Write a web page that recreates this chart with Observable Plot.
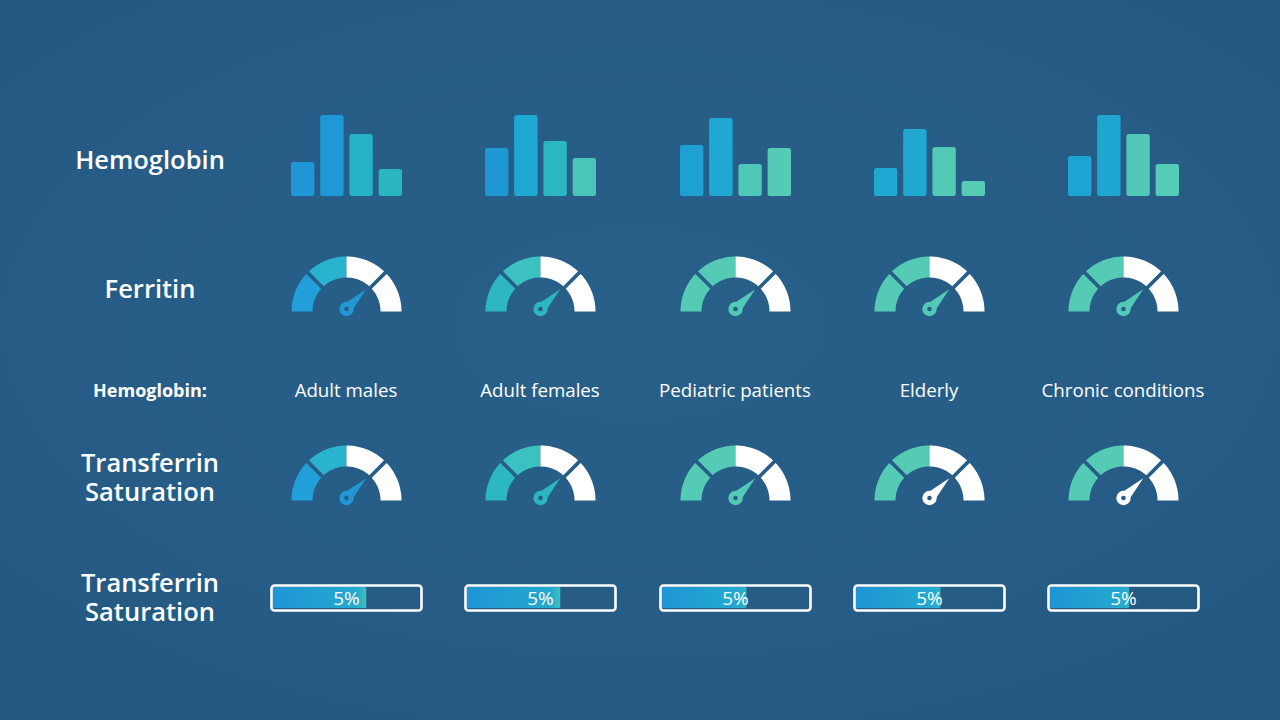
<!DOCTYPE html>
<html>
<head>
<meta charset="utf-8">
<script src="https://cdn.jsdelivr.net/npm/d3@7"></script>
<script src="https://cdn.jsdelivr.net/npm/@observablehq/plot@0.6"></script>
<style>
  html, body { margin: 0; padding: 0; background: #255b84; }
  #board {
    position: relative; width: 1280px; height: 720px; overflow: hidden;
    background: radial-gradient(ellipse 75% 70% at 50% 45%, #28608a 0%, #265c86 60%, #23577f 100%);
    font-family: "Open Sans", "Noto Sans", sans-serif; color: #fff;
  }
  .row-label {
    position: absolute; left: 30px; width: 240px; height: 29px; text-align: center;
    font-size: 25.5px; line-height: 29px; font-weight: 600; white-space: nowrap;
  }
  .col-label {
    position: absolute; width: 190px; text-align: center;
    font-size: 18.7px; line-height: 22px; font-weight: 400; white-space: nowrap;
  }
  .cell { position: absolute; }
  .cell svg { display: block; overflow: visible; background: none; }
</style>
</head>
<body>
<div id="board"></div>
<script>
// ---- data ----
const groups = ["Adult males", "Adult females", "Pediatric patients", "Elderly", "Chronic conditions"];
const rowLabels = ["Hemoglobin", "Ferritin", "Hemoglobin:", "Transferrin\nSaturation", "Transferrin\nSaturation"];

// Hemoglobin distribution, four bins per group
const hemoglobin = [
  [34, 81, 62, 27],
  [48, 81, 55, 38],
  [51, 78, 32, 48],
  [28, 67, 49, 15],
  [40, 81, 62, 32]
];
const hemoglobinColors = [
  ["#1f96d6", "#1e99d6", "#25b1c6", "#2bb5c2"],
  ["#1f97d5", "#1fa8d2", "#2ab6c2", "#4ac5b8"],
  ["#1ea0d4", "#1fa8d2", "#4ec9b7", "#55cbb5"],
  ["#1fa8d2", "#20a8d1", "#52cab6", "#57ccb4"],
  ["#1ea5d3", "#1fa7d2", "#52c9b6", "#56cbb5"]
];

// Gauge readings on a 0–100 scale
const ferritin = [75, 75, 75, 75, 75];
const transferrinGauge = [75, 75, 75, 75, 75];
const gaugeSegColors = [
  ["#229fd8", "#2ab3cf"],
  ["#2cb7c2", "#3bc1bf"],
  ["#55cbb5", "#55cbb5"],
  ["#55cbb5", "#55cbb5"],
  ["#55cbb5", "#55cbb5"]
];
const ferritinNeedle = ["#2197d4", "#2db5c1", "#53cab6", "#53cab6", "#53cab6"];
const transferrinNeedle = ["#2197d4", "#2db5c1", "#53cab6", "#ffffff", "#ffffff"];

// Transferrin saturation (%)
const transferrinPct = [5.4, 5.4, 4.9, 4.9, 4.6];

// ---- layout ----
const board = document.getElementById("board");
const colCenters = [346, 540, 735, 929, 1123];
const bg = "#265c86";

function place(node, left, top) {
  const d = document.createElement("div");
  d.className = "cell";
  d.style.left = left + "px";
  d.style.top = top + "px";
  d.appendChild(node);
  board.appendChild(d);
}

// One positioned block per text line
function textBlock(cls, text, left, top, lineStep = 29, extra = {}) {
  text.split("\n").forEach((line, k) => {
    const d = document.createElement("div");
    d.className = cls;
    d.style.left = left + "px";
    d.style.top = (top + k * lineStep) + "px";
    Object.assign(d.style, extra);
    d.textContent = line;
    board.appendChild(d);
  });
}

// Row labels
textBlock("row-label", rowLabels[0], 30, 145);
textBlock("row-label", rowLabels[1], 30, 274);
textBlock("row-label", rowLabels[2], 30, 380, 21, {fontSize: "18px", lineHeight: "21px", height: "21px", fontWeight: "700"});
textBlock("row-label", rowLabels[3], 30, 448);
textBlock("row-label", rowLabels[4], 30, 568);

// Column labels
groups.forEach((g, i) => textBlock("col-label", g, colCenters[i] - 95, 379));

// ---- bar charts ----
function barChart(values, colors) {
  const rows = values.map((v, i) => ({bin: i, value: v, color: colors[i]}));
  return Plot.plot({
    width: 111, height: 82, margin: 0,
    x: {type: "band", domain: [0, 1, 2, 3], paddingInner: 0.2, paddingOuter: 0, round: false, axis: null},
    y: {domain: [0, 82], axis: null},
    marks: [
      Plot.barY(rows, {x: "bin", y: "value", fill: "color", rx: 2.5})
    ]
  });
}

// ---- gauges ----
const R_OUT = 55, R_IN = 34, GAP = 1.8;
const angle = d3.scaleLinear().domain([0, 100]).range([Math.PI, 0]);

// Band polygon between angles a0 > a1, with straight gaps where flagged
function band(a0, a1, gapStart, gapEnd) {
  const pts = [];
  const adj = (a, r, gap, dir) => gap ? a + dir * Math.asin(GAP / r) : a;
  const n = 40;
  const o0 = adj(a0, R_OUT, gapStart, -1), o1 = adj(a1, R_OUT, gapEnd, 1);
  for (let k = 0; k <= n; k++) {
    const a = o0 + (o1 - o0) * k / n;
    pts.push({x: R_OUT * Math.cos(a), y: R_OUT * Math.sin(a)});
  }
  const i0 = adj(a0, R_IN, gapStart, -1), i1 = adj(a1, R_IN, gapEnd, 1);
  for (let k = n; k >= 0; k--) {
    const a = i0 + (i1 - i0) * k / n;
    pts.push({x: R_IN * Math.cos(a), y: R_IN * Math.sin(a)});
  }
  return pts;
}

function gauge(value, segColors, needleColor) {
  const PI = Math.PI;
  const segs = [
    {pts: band(PI, 3 * PI / 4, false, true), fill: segColors[0]},
    {pts: band(3 * PI / 4, PI / 2, true, false), fill: segColors[1]},
    {pts: band(PI / 2, PI / 4, false, true), fill: "#ffffff"},
    {pts: band(PI / 4, 0, true, false), fill: "#ffffff"}
  ];
  const hub = {x: 0, y: 2.5};
  const a = angle(value);
  const L = 28, w = 5.6;
  const needle = [
    {x: hub.x + L * Math.cos(a), y: hub.y + L * Math.sin(a)},
    {x: hub.x + w * Math.cos(a + PI / 2), y: hub.y + w * Math.sin(a + PI / 2)},
    {x: hub.x + w * Math.cos(a - PI / 2), y: hub.y + w * Math.sin(a - PI / 2)}
  ];
  return Plot.plot({
    width: 120, height: 70, margin: 0,
    x: {domain: [-60, 60], axis: null},
    y: {domain: [-10, 60], axis: null},
    marks: [
      ...segs.map(s => Plot.line(s.pts, {x: "x", y: "y", fill: s.fill, stroke: "none"})),
      Plot.line(needle, {x: "x", y: "y", fill: needleColor, stroke: "none"}),
      Plot.dot([hub], {x: "x", y: "y", r: 7.2, fill: needleColor, stroke: "none"}),
      Plot.dot([hub], {x: "x", y: "y", r: 2.3, fill: bg, stroke: "none"})
    ]
  });
}

// ---- progress bars ----
function progress(value, i) {
  const id = "pgrad" + i;
  const chart = Plot.plot({
    width: 156, height: 31,
    marginLeft: 3, marginRight: 3, marginTop: 3, marginBottom: 3,
    x: {domain: [0, 8.5], axis: null},
    marks: [
      Plot.barX([value], {x1: 0, x2: d => d, fill: `url(#${id})`, insetLeft: 2, insetTop: 2, insetBottom: 2, rx: 1.5}),
      Plot.frame({stroke: "#ffffff", strokeWidth: 2.6, rx: 3}),
      Plot.text([value], {text: d => `${Math.round(d)}%`, frameAnchor: "middle", fill: "#ffffff",
        fontSize: 19, fontFamily: "Open Sans, Noto Sans, sans-serif", dy: 0.5})
    ]
  });
  const tail = i < 2 ? "#3fc0bd" : "#2cb2c8";
  const defs = d3.select(chart).insert("defs", ":first-child");
  const g = defs.append("linearGradient").attr("id", id).attr("x1", "0").attr("x2", "1").attr("y1", "0").attr("y2", "0");
  g.append("stop").attr("offset", "0").attr("stop-color", "#1f95d5");
  g.append("stop").attr("offset", "0.55").attr("stop-color", "#21a2d2");
  g.append("stop").attr("offset", "0.9").attr("stop-color", "#24a9cf");
  g.append("stop").attr("offset", "1").attr("stop-color", tail);
  return chart;
}

groups.forEach((g, i) => {
  const cx = colCenters[i];
  place(barChart(hemoglobin[i], hemoglobinColors[i]), cx - 55, 114);
  place(gauge(ferritin[i], gaugeSegColors[i], ferritinNeedle[i]), cx - 60, 311 - 60);
  place(gauge(transferrinGauge[i], gaugeSegColors[i], transferrinNeedle[i]), cx - 60, 500 - 60);
  place(progress(transferrinPct[i], i), cx - 78, 582);
});
</script>
</body>
</html>
